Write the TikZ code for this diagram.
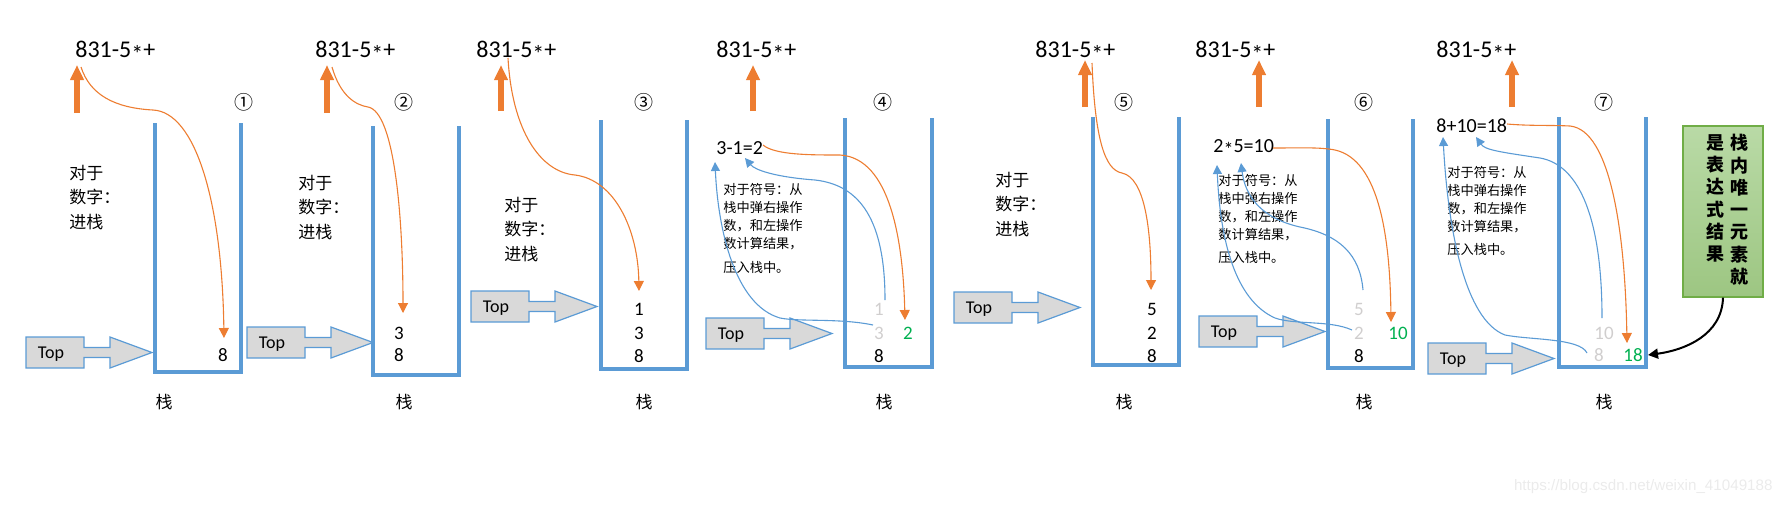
\documentclass[tikz,border=0pt]{standalone}
\usepackage{fontspec}
\setmainfont{Carlito}
\newfontfamily\cjk{Noto Sans CJK SC}
\newfontfamily\wmfont{Liberation Sans}
\usetikzlibrary{arrows.meta,shadings}
\definecolor{sblue}{HTML}{5B9BD5}
\definecolor{sorange}{HTML}{ED7D31}
\definecolor{sgreen}{HTML}{00B050}
\definecolor{lgray}{HTML}{D0CECE}
\definecolor{boxgray}{HTML}{D9D9D9}
\definecolor{gborder}{HTML}{70AD47}
\definecolor{gtop}{HTML}{B9DAA6}
\definecolor{gbot}{HTML}{9DC682}
\newcommand\midstar{\raisebox{-0.2em}{*}}
\newcommand\exprtext{831-5\midstar+}
\tikzset{
  expr/.style={font=\fontsize{12}{14}\selectfont, inner sep=0, anchor=west},
  calcx/.style={font=\fontsize{10}{12}\selectfont, inner sep=0, anchor=west},
  num/.style={font=\fontsize{9.5}{11}\selectfont, inner sep=0},
  cjktext/.style={font=\fontsize{8.5}{12.25}\selectfont\cjk, inner sep=0, align=left, anchor=north west},
  smalltext/.style={font=\fontsize{6.6}{9}\selectfont\cjk, inner sep=0, align=left, anchor=north west},
  circ/.style={font=\fontsize{9.5}{11}\selectfont\cjk, inner sep=0},
  stacklbl/.style={font=\fontsize{8.5}{10}\selectfont\cjk, inner sep=0},
  vtext/.style={font=\fontsize{9}{11.15}\selectfont\cjk\bfseries, inner sep=0, align=center, anchor=north},
  stackwall/.style={draw=sblue, line width=2.35pt, line cap=butt, line join=miter},
  bigarrow/.style={draw=sorange, line width=3pt, -{Triangle[length=7.5pt,width=6.5pt]}},
  olink/.style={draw=sorange, line width=0.55pt, -{Triangle[length=5pt,width=5pt]}},
  blink/.style={draw=sblue, line width=0.55pt, -{Triangle[length=4.5pt,width=4.5pt]}},
  toparrow/.pic={
    \draw[draw=sblue, fill=boxgray, line width=0.6pt]
      (0,0) -- (58,0) -- (58,10.5) -- (84,10.5) -- (84,0) -- (126,15.5)
      -- (84,31) -- (84,20.5) -- (58,20.5) -- (58,31) -- (0,31) -- cycle;
    \node[font=\fontsize{9}{11}\selectfont, inner sep=0] (-t) at (25,17.5) {Top};
  }
}
\begin{document}
\begin{tikzpicture}[x=0.5pt,y=-0.5pt]
\useasboundingbox (0,0) rectangle (1782,505);

% ---------- stack 1
\draw[stackwall] (155,123) -- (155,372) -- (241,372) -- (241,123);
\node[circ] (k1) at (244,102) {①};
\node[expr] (e1) at (75,52) {\exprtext};
\coordinate (u1a) at (77,113); \coordinate (u1b) at (77,65);
\draw[bigarrow] (u1a) -- (u1b);
\node[cjktext] (t1) at (69,164.5) {对于\\数字：\\进栈};
\pic (p1) at (26,337) {toparrow};
\node[num] (s1a) at (223,355) {8};
\node[stacklbl] (l1) at (164,402) {栈};

% ---------- stack 2
\draw[stackwall] (373,126) -- (373,375) -- (459,375) -- (459,126);
\node[circ] (k2) at (404,102) {②};
\node[expr] (e2) at (315,52) {\exprtext};
\coordinate (u2a) at (327,113); \coordinate (u2b) at (327,65);
\draw[bigarrow] (u2a) -- (u2b);
\node[cjktext] (t2) at (298,174.5) {对于\\数字：\\进栈};
\pic (p2) at (247,327) {toparrow};
\node[num] (s2a) at (399,333) {3};
\node[num] (s2b) at (399,355) {8};
\node[stacklbl] (l2) at (404,402) {栈};

% ---------- stack 3
\draw[stackwall] (601,120) -- (601,369) -- (687,369) -- (687,120);
\node[circ] (k3) at (644,102) {③};
\node[expr] (e3) at (476,52) {\exprtext};
\coordinate (u3a) at (501,111); \coordinate (u3b) at (501,65);
\draw[bigarrow] (u3a) -- (u3b);
\node[cjktext] (t3) at (504,196.5) {对于\\数字：\\进栈};
\pic (p3) at (471,291) {toparrow};
\node[num] (s3a) at (639,309) {1};
\node[num] (s3b) at (639,333) {3};
\node[num] (s3c) at (639,356) {8};
\node[stacklbl] (l3) at (644,402) {栈};

% ---------- stack 4
\draw[stackwall] (845,118) -- (845,367) -- (932,367) -- (932,118);
\node[circ] (k4) at (883,102) {④};
\node[expr] (e4) at (716,52) {\exprtext};
\coordinate (u4a) at (753,111); \coordinate (u4b) at (753,65);
\draw[bigarrow] (u4a) -- (u4b);
\node[calcx] (c4) at (716,148) {3-1=2};
\node[smalltext] (b4) at (723,182.5) {对于符号：从\\栈中弹右操作\\数，和左操作\\数计算结果，\\[3pt]压入栈中。};
\pic (p4) at (706,318) {toparrow};
\node[num, text=lgray] (s4a) at (879,309) {1};
\node[num, text=lgray] (s4b) at (879,333) {3};
\node[num] (s4c) at (879,356) {8};
\node[num, text=sgreen] (s4d) at (908,333) {2};
\node[stacklbl] (l4) at (884,402) {栈};

% ---------- stack 5
\draw[stackwall] (1093,117) -- (1093,365) -- (1179,365) -- (1179,117);
\node[circ] (k5) at (1124,102) {⑤};
\node[expr] (e5) at (1035,52) {\exprtext};
\coordinate (u5a) at (1085,107); \coordinate (u5b) at (1085,60);
\draw[bigarrow] (u5a) -- (u5b);
\node[cjktext] (t5) at (995,171.5) {对于\\数字：\\进栈};
\pic (p5) at (954,292) {toparrow};
\node[num] (s5a) at (1152,309) {5};
\node[num] (s5b) at (1152,333) {2};
\node[num] (s5c) at (1152,356) {8};
\node[stacklbl] (l5) at (1124,402) {栈};

% ---------- stack 6
\draw[stackwall] (1328,119) -- (1328,368) -- (1413,368) -- (1413,119);
\node[circ] (k6) at (1364,102) {⑥};
\node[expr] (e6) at (1195,52) {\exprtext};
\coordinate (u6a) at (1259,107); \coordinate (u6b) at (1259,60);
\draw[bigarrow] (u6a) -- (u6b);
\node[calcx] (c6) at (1213,148) {2\midstar5=10};
\node[smalltext] (b6) at (1218,173.5) {对于符号：从\\栈中弹右操作\\数，和左操作\\数计算结果，\\[2.5pt]压入栈中。};
\pic (p6) at (1199,316) {toparrow};
\node[num, text=lgray] (s6a) at (1359,309) {5};
\node[num, text=lgray] (s6b) at (1359,333) {2};
\node[num] (s6c) at (1359,356) {8};
\node[num, text=sgreen] (s6d) at (1398,333) {10};
\node[stacklbl] (l6) at (1364,402) {栈};

% ---------- stack 7
\draw[stackwall] (1559,117) -- (1559,367) -- (1646,367) -- (1646,117);
\node[circ] (k7) at (1604,102) {⑦};
\node[expr] (e7) at (1436,52) {\exprtext};
\coordinate (u7a) at (1512,107); \coordinate (u7b) at (1512,60);
\draw[bigarrow] (u7a) -- (u7b);
\node[calcx] (c7) at (1436,126) {8+10=18};
\node[smalltext] (b7) at (1447,165.5) {对于符号：从\\栈中弹右操作\\数，和左操作\\数计算结果，\\[2.5pt]压入栈中。};
\pic (p7) at (1428,343) {toparrow};
\node[num, text=lgray] (s7a) at (1604,333) {10};
\node[num, text=lgray] (s7b) at (1599,355) {8};
\node[num, text=sgreen] (s7c) at (1633,355) {18};
\node[stacklbl] (l7) at (1604,402) {栈};

% ---------- result box
\node[draw=gborder, line width=0.6pt, top color=gtop, bottom color=gbot,
      minimum width=40pt, minimum height=85.5pt, inner sep=0] (res) at (1723,211.5) {};
\node[vtext] (r1) at (1739,134) {栈\\内\\唯\\一\\元\\素\\就};
\node[vtext] (r2) at (1715,134) {是\\表\\达\\式\\结\\果};
\coordinate (rend) at (1648,355);
\draw[line width=1pt, -{Triangle[length=5pt,width=5pt]}] (res.south) .. controls (1722,335) and (1685,350) .. (rend);

% ---------- connectors
\coordinate (o1s) at (81,67); \coordinate (o1e) at (224,338);
\draw[olink] (o1s) .. controls (90,95) and (115,108) .. (153,110) .. controls (195,112) and (222,200) .. (o1e);
\coordinate (o2s) at (332,67); \coordinate (o2e) at (403,313);
\draw[olink] (o2s) .. controls (340,95) and (355,105) .. (368,107) .. controls (395,112) and (403,220) .. (o2e);
\coordinate (o3s) at (508,58); \coordinate (o3e) at (639,291);
\draw[olink] (o3s) .. controls (512,130) and (540,172) .. (575,175) .. controls (615,180) and (638,230) .. (o3e);
\coordinate (o4s) at (763,145); \coordinate (o4e) at (905,320);
\draw[olink] (o4s) .. controls (775,155) and (810,155) .. (840,155) .. controls (890,158) and (903,240) .. (o4e);
\coordinate (b4as) at (885,300); \coordinate (b4ae) at (745,158);
\draw[blink] (b4as) .. controls (885,220) and (860,185) .. (815,180) .. controls (775,177) and (755,170) .. (b4ae);
\coordinate (b4bs) at (873,325); \coordinate (b4be) at (715,162);
\draw[blink] (b4bs) .. controls (840,318) and (800,322) .. (780,318) .. controls (735,305) and (718,230) .. (b4be);
\coordinate (o5s) at (1092,63); \coordinate (o5e) at (1151,290);
\draw[olink] (o5s) .. controls (1095,140) and (1105,170) .. (1122,173) .. controls (1145,178) and (1151,230) .. (o5e);
\coordinate (o6s) at (1273,148); \coordinate (o6e) at (1391,322);
\draw[olink] (o6s) .. controls (1300,148) and (1320,147) .. (1335,150) .. controls (1380,160) and (1390,240) .. (o6e);
\coordinate (b6as) at (1363,290); \coordinate (b6ae) at (1241,163);
\draw[blink] (b6as) .. controls (1360,255) and (1340,235) .. (1300,227) .. controls (1260,218) and (1245,195) .. (b6ae);
\coordinate (b6bs) at (1352,330); \coordinate (b6be) at (1217,165);
\draw[blink] (b6bs) .. controls (1330,320) and (1295,325) .. (1275,318) .. controls (1235,300) and (1220,240) .. (b6be);
\coordinate (o7s) at (1507,124); \coordinate (o7e) at (1627,343);
\draw[olink] (o7s) .. controls (1530,126) and (1550,125) .. (1570,126) .. controls (1610,130) and (1625,230) .. (o7e);
\coordinate (b7as) at (1602,318); \coordinate (b7ae) at (1476,137);
\draw[blink] (b7as) .. controls (1602,220) and (1580,165) .. (1540,158) .. controls (1500,152) and (1485,150) .. (b7ae);
\coordinate (b7bs) at (1587,353); \coordinate (b7be) at (1443,137);
\draw[blink] (b7bs) .. controls (1580,338) and (1530,340) .. (1505,335) .. controls (1465,320) and (1448,230) .. (b7be);

% ---------- watermark
\node[font=\wmfont\fontsize{7.6}{9}\selectfont, text=black!8, anchor=east, inner sep=0] (wm) at (1773,487) {https://blog.csdn.net/weixin\_41049188};
\end{tikzpicture}
\end{document}
